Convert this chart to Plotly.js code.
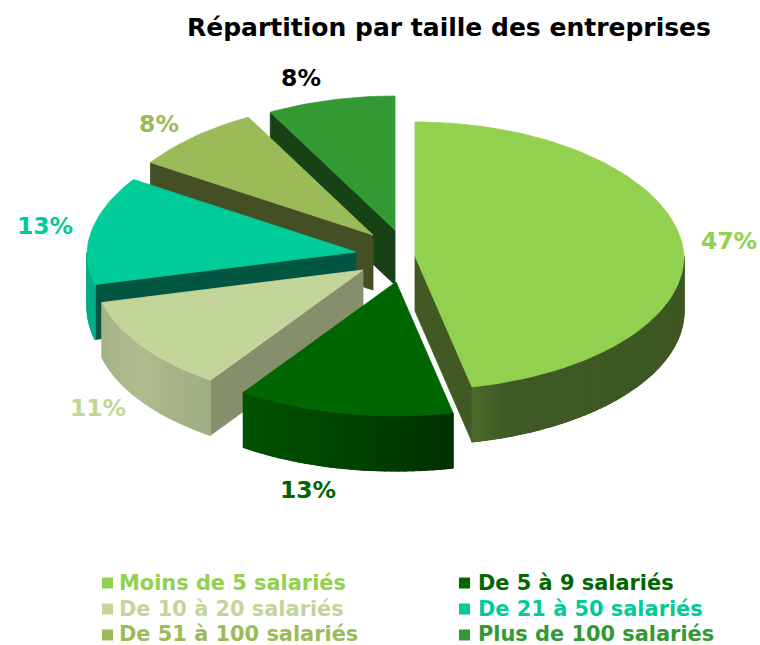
<!DOCTYPE html>
<html lang="fr">
<head>
<meta charset="utf-8">
<script src="https://cdn.plot.ly/plotly-3.0.1.min.js"></script>
<style>html,body{margin:0;padding:0;background:#fff}#chart{width:760px;height:645px}</style>
</head>
<body>
<div id="chart"></div>
<script>
// ---- data ----
const categories = ['Moins de 5 salariés','De 5 à 9 salariés','De 10 à 20 salariés','De 21 à 50 salariés','De 51 à 100 salariés','Plus de 100 salariés'];
const values = [46.6, 13.0, 11.5, 13.0, 8.0, 7.9];
const valueLabels = ['47%','13%','11%','13%','8%','8%'];

// ---- styles and layout (pixel-space scene) ----
const topColors = ['#92D050','#006600','#C4D59A','#00CC99','#9BBB59','#339933'];
const edgeColors = ['#415A23','#006600','#868F6C','#005640','#454F25','#164216'];
const rimFrom = ['#4A6A2A','#005200','#A5B388','#00AC86','#6d8a3c','#24702a'];
const rimMid = ['#3F5A25','#004400','#AEBB8D','#00AC86','#6d8a3c','#24702a'];
const rimTo = ['#3D5622','#003000','#9FAD83','#00B08A','#6d8a3c','#24702a'];
const rimKnot = [0.1,0.5,0.5,0.5,0.5,0.5];
const labelColors = ['#92D050','#006600','#C4D59A','#00CC99','#9BBB59','#000000'];
const apexX = [415,396,363,356,373,395];
const apexY = [256,282,270,252,235,230];
const labelX = [729,308,98,45,159,301];
const labelY = [243,492,410,228,126,80];
const legendX = [107.5,464.5,107.5,464.5,107.5,464.5];
const legendMarkY = [583,583,609,609,635,635];
const legendTextX = [119,478,119,478,119,478];
const legendTextY = [585,585,611,611,636,636];
const RX = 269, RY = 134, DEPTH = 55, PERSP = 0.03;

const rim = (i,t) => {
  const r = t*Math.PI/180, c = Math.cos(r);
  return [apexX[i] + RX*Math.sin(r)*(1 - PERSP*Math.max(c,0)), apexY[i] - RY*c];
};
const hex = c => [1,3,5].map(k => parseInt(c.substr(k,2),16));
const mix = (a,b,f) => { const A=hex(a),B=hex(b); return 'rgb('+A.map((v,k)=>Math.round(v+(B[k]-v)*f)).join(',')+')'; };
const poly = (pts,color,w) => ({
  type:'scatter', mode:'lines', x:[...pts.map(p=>p[0]),pts[0][0]], y:[...pts.map(p=>p[1]),pts[0][1]],
  fill:'toself', fillcolor:color, line:{color:color,width:w===undefined?0.8:w}, hoverinfo:'skip', showlegend:false
});

const total = values.reduce((a,b)=>a+b,0);
const traces = [];
let starts = [], acc = 0;
values.forEach(v => { starts.push(acc/total*360); acc += v; });

// back slices first
[5,4,3,2,1,0].forEach(i => {
  const t0 = starts[i], t1 = t0 + values[i]/total*360, tm = (t0+t1)/2;
  const ax = apexX[i], ay = apexY[i], inner = rim(i,tm);
  // radial walls facing the viewer
  [t0,t1].forEach(t => {
    const p = rim(i,t), dx = p[0]-ax;
    if (Math.abs(dx) < 5) return;
    const yOnEdge = ay + (p[1]-ay)*(inner[0]-ax)/dx;
    if (inner[1] < yOnEdge) {
      traces.push(poly([[ax,ay],p,[p[0],p[1]+DEPTH],[ax,ay+DEPTH]], edgeColors[i]));
    }
  });
  // curved outer wall: base shape, then vertical gradient bands
  const a = Math.max(t0,90), b = Math.min(t1,270);
  if (b > a) {
    const base=[];
    for (let t=a;t<b;t+=1.5) base.push(rim(i,t));
    base.push(rim(i,b));
    const full=[...base,...base.slice().reverse().map(q=>[q[0],q[1]+DEPTH])];
    traces.push(poly(full,rimMid[i]));
    const n = Math.max(2,Math.ceil((b-a)/1.5));
    for (let k=0;k<n;k++) {
      const u0=a+(b-a)*k/n, u1=a+(b-a)*(k+1)/n, f=1-(k+0.5)/n, m=rimKnot[i];
      const col = f<m ? mix(rimFrom[i],rimMid[i],f/m) : mix(rimMid[i],rimTo[i],(f-m)/(1-m));
      const q0=rim(i,u0), q1=rim(i,u1);
      traces.push(poly([q0,q1,[q1[0],q1[1]+DEPTH],[q0[0],q0[1]+DEPTH]],col,1.2));
    }
  }
  // top face
  const top=[[ax,ay]];
  for (let t=t0;t<t1;t+=1.5) top.push(rim(i,t));
  top.push(rim(i,t1));
  traces.push(poly(top,topColors[i]));
});

const FONT = '"DejaVu Sans", Verdana, sans-serif';
traces.push({
  type:'scatter', mode:'text', x:labelX, y:labelY, text:valueLabels.map(s=>'<b>'+s+'</b>'),
  textposition:'middle center', textfont:{family:FONT,size:23.5,color:labelColors},
  hoverinfo:'skip', showlegend:false
});
traces.push({
  type:'scatter', mode:'markers', x:legendX, y:legendMarkY,
  marker:{symbol:'square',size:11,color:topColors,line:{width:0}},
  hoverinfo:'skip', showlegend:false
});
traces.push({
  type:'scatter', mode:'text', x:legendTextX, y:legendTextY, text:categories.map(s=>'<b>'+s+'</b>'),
  textposition:'middle right', textfont:{family:FONT,size:20.9,color:topColors},
  hoverinfo:'skip', showlegend:false
});

Plotly.newPlot('chart',traces,{
  width:760,height:645,margin:{l:0,r:0,t:0,b:0},
  paper_bgcolor:'#fff',plot_bgcolor:'#fff',showlegend:false,
  xaxis:{range:[0,760],visible:false,fixedrange:true},
  yaxis:{range:[645,0],visible:false,fixedrange:true},
  title:{text:'<b>Répartition par taille des entreprises</b>',font:{family:FONT,size:25,color:'#000'},
    x:449/760,xanchor:'center',y:1-27/645,yanchor:'middle'}
},{displayModeBar:false,staticPlot:true});
</script>
</body>
</html>
